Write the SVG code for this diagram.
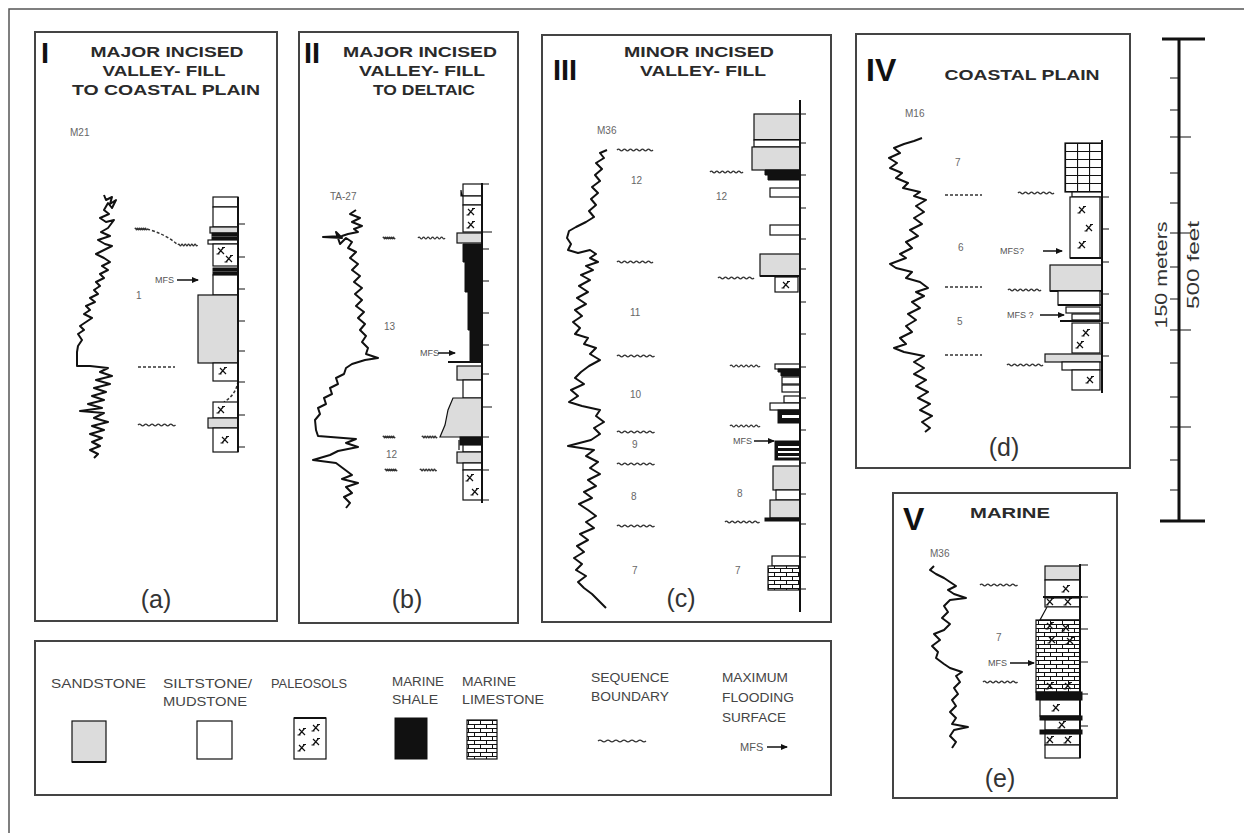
<svg xmlns="http://www.w3.org/2000/svg" xmlns:xlink="http://www.w3.org/1999/xlink" width="1244" height="833" viewBox="0 0 1244 833">
<style>
.box{fill:#fff;stroke:#444;stroke-width:2}
.t{font-family:"Liberation Sans",Arial,sans-serif;font-weight:bold;fill:#2a2a2a;font-size:15px;text-anchor:middle}
.rn{font-family:"Liberation Sans",Arial,sans-serif;font-weight:bold;fill:#111;font-size:29px}
.lbl{font-family:"Liberation Sans",Arial,sans-serif;fill:#666;font-size:10px}
.mfs{font-family:"Liberation Sans",Arial,sans-serif;fill:#555;font-size:9px}
.cap{font-family:"Liberation Sans",Arial,sans-serif;fill:#333;font-size:25px;text-anchor:middle}
.leg{font-family:"Liberation Sans",Arial,sans-serif;fill:#444;font-size:12px}
.log{fill:none;stroke:#111;stroke-width:2;stroke-linejoin:round}
.w{fill:#fff;stroke:#111;stroke-width:1.2}
.g{fill:#dcdcdc;stroke:#111;stroke-width:1.2}
.k{fill:#111;stroke:#111;stroke-width:1}
.lm{fill:url(#lime);stroke:#111;stroke-width:1.2}
.lm2{fill:url(#lime2);stroke:#111;stroke-width:1.2}
.ax{stroke:#111;stroke-width:2}
.tk{stroke:#111;stroke-width:1.2}
.sb{fill:none;stroke:#333;stroke-width:1.3}
.sbd{stroke:#333;stroke-width:1.5;stroke-dasharray:3 2}
.arr{stroke:#111;stroke-width:1.5;marker-end:url(#ah)}
</style>
<defs>
<marker id="ah" markerWidth="7" markerHeight="6" refX="6" refY="3" orient="auto" markerUnits="userSpaceOnUse"><path d="M0,0 L7,3 L0,6z" fill="#111"/></marker>
<pattern id="lime" patternUnits="userSpaceOnUse" width="12" height="8"><rect width="12" height="8" fill="#fff"/><path d="M0,0.5H12M0,4.5H12M0.5,0.5V4.5M6.5,4.5V8" stroke="#111" stroke-width="1"/></pattern>
<pattern id="lime2" patternUnits="userSpaceOnUse" width="12" height="16" x="1065" y="143"><rect width="12" height="16" fill="#fff"/><path d="M0,0.5H12M0,8.5H12M0.5,0V16" stroke="#111" stroke-width="1.2"/></pattern>
<path id="sb" class="sb" vector-effect="non-scaling-stroke" d="M0,0 q1.25,-1.8 2.5,0 t2.5,0 t2.5,0 t2.5,0 t2.5,0 t2.5,0 t2.5,0 t2.5,0 t2.5,0 t2.5,0 t2.5,0 t2.5,0"/>
<path id="ps" d="M-3,-3 L3,3 M2.5,-3.5 L-3,3 M-4.5,3 h3 M1,-3.5 h3" stroke="#111" stroke-width="1.2" fill="none"/>
</defs>
<rect width="1244" height="833" fill="#fff"/>
<path d="M9,833 V9 H1244" fill="none" stroke="#555" stroke-width="1.5"/>

<!-- Panel I -->
<g id="panel-I">
<rect class="box" x="35" y="32" width="242" height="589"/>
<text class="rn" x="41" y="63">I</text>
<text class="t" x="167" y="57" textLength="153" lengthAdjust="spacingAndGlyphs">MAJOR INCISED</text>
<text class="t" x="164" y="76" textLength="123" lengthAdjust="spacingAndGlyphs">VALLEY- FILL</text>
<text class="t" x="166" y="95" textLength="188" lengthAdjust="spacingAndGlyphs">TO COASTAL PLAIN</text>
<text class="lbl" x="70" y="136">M21</text>
<polyline class="log" points="104,195 106,200 112,197 110,204 116,200 112,208 108,203 104,210 109,214 100,218 106,222 114,220 108,228 101,232 110,236 98,240 105,244 112,246 104,250 96,254 104,258 110,262 102,266 108,270 100,274 104,278 96,282 100,286 94,290 98,294 90,298 95,302 86,306 90,310 84,314 92,318 86,322 80,326 84,330 78,334 82,340 78,346 77,352 77,366 90,366 108,368 100,372 112,376 96,380 110,384 94,388 106,392 92,396 104,400 88,404 102,408 80,411 104,413 94,418 108,422 92,426 104,430 90,434 102,438 92,442 100,446 90,450 98,454 94,458"/>
<use href="#sb" transform="translate(135,229) scale(0.4,1)"/>
<path d="M147,229 Q165,234 177,244" fill="none" class="sbd"/>
<use href="#sb" transform="translate(178,245) scale(0.65,1)"/>
<line class="sbd" x1="138" y1="367" x2="175" y2="367"/>
<use href="#sb" transform="translate(138,425) scale(1.25,1)"/>
<text class="lbl" x="136" y="299">1</text>
<text class="mfs" x="155" y="283">MFS</text>
<line class="arr" x1="177" y1="280" x2="198" y2="280"/>
<rect class="w" x="213" y="197" width="25" height="10"/>
<rect class="w" x="213" y="207" width="25" height="20"/>
<rect class="g" x="210" y="227" width="28" height="6"/>
<rect class="k" x="212" y="233" width="26" height="3"/>
<rect class="k" x="212" y="237" width="26" height="3"/>
<rect class="w" x="208" y="240" width="30" height="4"/>
<rect class="w" x="213" y="244" width="25" height="22"/>
<use href="#ps" x="221" y="251"/><use href="#ps" x="229" y="259"/>
<rect class="k" x="213" y="268" width="25" height="3"/>
<rect class="k" x="213" y="272" width="25" height="3"/>
<rect class="w" x="213" y="275" width="25" height="20"/>
<rect class="g" x="198" y="295" width="40" height="68"/>
<rect class="w" x="213" y="363" width="25" height="18"/>
<use href="#ps" x="223" y="371"/>
<path d="M238,381 Q236,395 224,402" class="sbd" fill="none"/>
<rect class="w" x="213" y="402" width="25" height="16"/>
<use href="#ps" x="221" y="410"/>
<rect class="g" x="208" y="418" width="30" height="10"/>
<rect class="w" x="213" y="428" width="25" height="24"/>
<use href="#ps" x="225" y="440"/>
<line class="ax" x1="238" y1="197" x2="238" y2="452"/>
<path class="tk" d="M238,224h7M238,257h7M238,289h7M238,321h7M238,351h7M238,382h7M238,415h7M238,447h7"/>
<text class="cap" x="156" y="608">(a)</text>
</g>

<!-- Panel II -->
<g id="panel-II">
<rect class="box" x="299" y="32" width="219" height="591"/>
<text class="rn" x="304" y="63">II</text>
<text class="t" x="420" y="57" textLength="154" lengthAdjust="spacingAndGlyphs">MAJOR INCISED</text>
<text class="t" x="422" y="76" textLength="126" lengthAdjust="spacingAndGlyphs">VALLEY- FILL</text>
<text class="t" x="424" y="95" textLength="102" lengthAdjust="spacingAndGlyphs">TO DELTAIC</text>
<text class="lbl" x="330" y="200">TA-27</text>
<polyline class="log" points="356,210 350,214 360,218 352,222 362,226 354,229 358,232 348,234 342,236 323,237 342,238 336,232 340,244 346,238 352,242 348,248 356,252 350,258 358,264 352,270 360,276 354,282 362,288 355,294 362,300 356,306 364,312 358,318 365,324 360,330 366,336 362,342 368,348 366,354 378,358 365,360 352,364 346,368 344,374 336,378 338,384 330,388 332,394 324,398 326,404 318,408 320,414 315,420 316,430 318,436 356,439 346,443 358,447 338,451 330,455 313,460 336,463 344,469 352,475 342,479 358,483 346,487 352,493 344,497 350,503 346,508"/>
<use href="#sb" transform="translate(383,238) scale(0.4,1)"/>
<use href="#sb" transform="translate(418,238) scale(0.9,1)"/>
<use href="#sb" transform="translate(383,437) scale(0.4,1)"/>
<use href="#sb" transform="translate(422,437) scale(0.5,1)"/>
<use href="#sb" transform="translate(385,470) scale(0.4,1)"/>
<use href="#sb" transform="translate(420,470) scale(0.55,1)"/>
<text class="lbl" x="384" y="330">13</text>
<text class="lbl" x="386" y="458">12</text>
<text class="mfs" x="420" y="356">MFS</text>
<line class="arr" x1="438" y1="353" x2="455" y2="353"/>
<rect class="w" x="463" y="184" width="19" height="12"/>
<path class="tk" d="M461,190v6h2"/>
<rect class="w" x="463" y="196" width="19" height="9"/>
<rect class="w" x="463" y="205" width="19" height="27"/>
<use href="#ps" x="471" y="212"/><use href="#ps" x="471" y="225"/>
<rect class="g" x="457" y="233" width="25" height="10"/>
<path class="k" d="M463,244H482V362H470V330H468V292H465V262H463Z"/>
<line x1="448" y1="362" x2="482" y2="362" stroke="#111" stroke-width="2"/>
<rect class="g" x="457" y="366" width="25" height="14"/>
<rect class="w" x="463" y="380" width="19" height="18"/>
<path class="g" d="M453,398H482V437H440L445,425L448,410Z"/>
<rect class="k" x="460" y="437" width="22" height="8"/>
<rect class="w" x="463" y="445" width="19" height="7"/>
<path class="tk" d="M459,440v10"/>
<rect class="g" x="457" y="452" width="25" height="11"/>
<rect class="w" x="463" y="463" width="19" height="7"/>
<rect class="w" x="463" y="470" width="19" height="30"/>
<use href="#ps" x="470" y="478"/><use href="#ps" x="475" y="492"/>
<line class="ax" x1="482" y1="183" x2="482" y2="503"/>
<path class="tk" d="M482,184h7M482,232h10M482,249h7M482,281h7M482,313h7M482,345h7M482,374h7M482,407h10M482,437h7M482,470h7M482,500h7"/>
<text class="cap" x="407" y="608">(b)</text>
</g>

<!-- Panel III -->
<g id="panel-III">
<rect class="box" x="542" y="35" width="289" height="587"/>
<text class="rn" x="553" y="80">III</text>
<text class="t" x="699" y="57" textLength="150" lengthAdjust="spacingAndGlyphs">MINOR INCISED</text>
<text class="t" x="703" y="76" textLength="126" lengthAdjust="spacingAndGlyphs">VALLEY- FILL</text>
<text class="lbl" x="597" y="134">M36</text>
<polyline class="log" points="607,150 600,153 604,158 596,163 602,169 595,175 600,181 592,187 598,193 591,199 596,205 589,211 594,217 586,222 576,227 569,231 567,238 571,244 568,250 578,253 590,250 596,254 590,258 598,262 586,266 593,270 581,275 590,280 579,286 588,292 577,298 586,304 575,310 582,316 573,322 580,328 575,334 588,338 584,344 596,348 590,354 600,360 589,366 581,372 575,378 584,384 571,390 578,396 569,402 582,406 600,410 596,416 604,422 594,428 600,434 591,440 568,446 594,450 586,456 598,462 590,468 600,474 588,480 596,486 584,492 592,498 579,504 588,510 596,516 586,522 594,528 580,534 588,540 577,546 584,552 574,558 582,564 576,570 586,576 578,582 584,588 592,594 598,600 606,608"/>
<use href="#sb" transform="translate(617,150) scale(1.2,1)"/>
<use href="#sb" transform="translate(617,262) scale(1.2,1)"/>
<use href="#sb" transform="translate(617,356) scale(1.25,1)"/>
<use href="#sb" transform="translate(617,432) scale(1.25,1)"/>
<use href="#sb" transform="translate(617,464) scale(1.25,1)"/>
<use href="#sb" transform="translate(617,526) scale(1.25,1)"/>
<use href="#sb" transform="translate(710,172) scale(1.1,1)"/>
<use href="#sb" transform="translate(718,278) scale(1.2,1)"/>
<use href="#sb" transform="translate(730,366) scale(1.0,1)"/>
<use href="#sb" transform="translate(730,426) scale(1.0,1)"/>
<use href="#sb" transform="translate(725,522) scale(1.15,1)"/>
<text class="lbl" x="631" y="184">12</text>
<text class="lbl" x="716" y="200">12</text>
<text class="lbl" x="630" y="316">11</text>
<text class="lbl" x="630" y="398">10</text>
<text class="lbl" x="632" y="448">9</text>
<text class="lbl" x="631" y="500">8</text>
<text class="lbl" x="737" y="497">8</text>
<text class="lbl" x="632" y="574">7</text>
<text class="lbl" x="735" y="574">7</text>
<text class="mfs" x="733" y="444">MFS</text>
<line class="arr" x1="754" y1="441" x2="774" y2="441"/>
<rect class="g" x="754" y="114" width="46" height="26"/>
<line x1="754" y1="140" x2="800" y2="140" stroke="#111" stroke-width="2"/>
<rect class="w" x="754" y="140" width="46" height="7"/>
<rect class="g" x="752" y="147" width="48" height="23"/>
<path class="k" d="M765,170H800V180H768V175H765Z"/>
<rect class="w" x="770" y="188" width="30" height="9"/>
<rect class="w" x="770" y="225" width="30" height="10"/>
<rect class="g" x="760" y="254" width="40" height="22"/>
<line x1="760" y1="276" x2="800" y2="276" stroke="#111" stroke-width="2"/>
<rect class="w" x="775" y="277" width="23" height="15"/>
<use href="#ps" x="786" y="285"/>
<rect class="w" x="775" y="364" width="25" height="5"/>
<path class="k" d="M778,369H800V376H781V372H778Z"/>
<rect class="w" x="782" y="377" width="18" height="7"/>
<rect class="w" x="782" y="385" width="18" height="7"/>
<rect class="w" x="784" y="396" width="16" height="7"/>
<rect class="w" x="770" y="403" width="30" height="7"/>
<rect class="k" x="778" y="410" width="22" height="13"/>
<rect x="782" y="415" width="18" height="3" fill="#fff"/>
<rect class="k" x="775" y="441" width="25" height="19"/>
<rect x="778" y="446" width="22" height="2" fill="#fff"/>
<rect x="778" y="451" width="22" height="2" fill="#fff"/>
<rect x="778" y="456" width="22" height="1.5" fill="#fff"/>
<rect class="g" x="773" y="466" width="27" height="24"/>
<rect class="w" x="776" y="490" width="24" height="10"/>
<rect class="g" x="770" y="500" width="30" height="18"/>
<rect class="k" x="765" y="518" width="35" height="3"/>
<rect class="w" x="772" y="556" width="28" height="10"/>
<rect class="lm" x="768" y="566" width="32" height="24"/>
<line class="ax" x1="800" y1="100" x2="800" y2="612"/>
<path class="tk" d="M800,114h6M800,143h6M800,175h6M800,208h6M800,239h6M800,269h6M800,302h6M800,334h6M800,367h6M800,398h6M800,430h6M800,463h6M800,494h6M800,524h6M800,557h6M800,589h6"/>
<text class="cap" x="681" y="607">(c)</text>
</g>

<!-- Panel IV -->
<g id="panel-IV">
<rect class="box" x="856" y="34" width="274" height="434"/>
<text class="rn" x="866" y="81" style="font-size:32px">IV</text>
<text class="t" x="1022" y="80" textLength="155" lengthAdjust="spacingAndGlyphs">COASTAL PLAIN</text>
<text class="lbl" x="905" y="117">M16</text>
<polyline class="log" points="922,138 914,141 904,144 894,148 900,153 889,158 897,163 890,168 902,173 896,178 908,183 903,188 920,192 914,196 926,200 916,206 924,212 914,218 922,224 910,230 918,236 906,242 912,248 900,254 906,258 890,264 896,268 912,272 906,278 920,282 928,288 916,292 924,296 912,302 920,308 908,314 916,320 906,326 912,332 900,338 906,344 894,348 904,352 924,356 914,362 924,368 914,374 926,380 916,386 928,392 918,398 930,404 920,410 932,416 922,422 930,428 925,432"/>
<line class="sbd" x1="945" y1="195" x2="982" y2="195"/>
<line class="sbd" x1="945" y1="287" x2="982" y2="287"/>
<line class="sbd" x1="945" y1="355" x2="982" y2="355"/>
<use href="#sb" transform="translate(1018,193) scale(1.2,1)"/>
<use href="#sb" transform="translate(1008,290) scale(1.1,1)"/>
<use href="#sb" transform="translate(1007,365) scale(1.2,1)"/>
<text class="lbl" x="955" y="166">7</text>
<text class="lbl" x="958" y="251">6</text>
<text class="lbl" x="957" y="325">5</text>
<text class="mfs" x="1000" y="254">MFS?</text>
<line class="arr" x1="1043" y1="251" x2="1062" y2="251"/>
<text class="mfs" x="1007" y="318">MFS ?</text>
<line class="arr" x1="1040" y1="315" x2="1064" y2="315"/>
<rect class="lm2" x="1065" y="143" width="37" height="49"/>
<rect class="w" x="1072" y="192" width="30" height="5"/>
<rect class="w" x="1070" y="197" width="30" height="61"/>
<use href="#ps" x="1082" y="210"/><use href="#ps" x="1089" y="228"/><use href="#ps" x="1082" y="245"/>
<line x1="1070" y1="258" x2="1102" y2="258" stroke="#111" stroke-width="2"/>
<rect class="g" x="1050" y="265" width="52" height="26"/>
<line x1="1050" y1="291" x2="1102" y2="291" stroke="#111" stroke-width="2"/>
<rect class="w" x="1058" y="291" width="42" height="14"/>
<line x1="1058" y1="305" x2="1102" y2="305" stroke="#111" stroke-width="2"/>
<rect class="w" x="1066" y="307" width="34" height="6"/>
<rect class="w" x="1072" y="314" width="28" height="6"/>
<line x1="1060" y1="321" x2="1102" y2="321" stroke="#111" stroke-width="2"/>
<rect class="w" x="1072" y="323" width="28" height="30"/>
<use href="#ps" x="1086" y="333"/><use href="#ps" x="1080" y="345"/>
<rect class="g" x="1045" y="354" width="57" height="8"/>
<rect class="w" x="1062" y="362" width="38" height="8"/>
<rect class="w" x="1072" y="370" width="28" height="20"/>
<use href="#ps" x="1090" y="380"/>
<line class="ax" x1="1102" y1="140" x2="1102" y2="393"/>
<path class="tk" d="M1102,197h7M1102,229h7M1102,262h7M1102,294h7M1102,323h7M1102,356h7"/>
<text class="cap" x="1004" y="456">(d)</text>
</g>

<!-- Panel V -->
<g id="panel-V">
<rect class="box" x="893" y="493" width="224" height="305"/>
<text class="rn" x="903" y="530" style="font-size:32px">V</text>
<text class="t" x="1010" y="518" textLength="80" lengthAdjust="spacingAndGlyphs">MARINE</text>
<text class="lbl" x="930" y="557">M36</text>
<polyline class="log" points="934,566 930,570 936,574 944,578 950,582 956,586 948,590 954,594 966,598 950,600 944,606 948,612 942,618 950,624 944,630 934,634 940,640 932,646 938,652 936,658 944,664 950,668 962,672 956,676 960,682 954,688 958,694 952,700 956,706 950,712 956,718 952,724 968,727 954,730 950,736 956,742 952,748"/>
<use href="#sb" transform="translate(980,585) scale(1.25,1)"/>
<use href="#sb" transform="translate(983,682) scale(1.15,1)"/>
<text class="lbl" x="996" y="641">7</text>
<text class="mfs" x="988" y="666">MFS</text>
<line class="arr" x1="1010" y1="663" x2="1034" y2="663"/>
<rect class="g" x="1045" y="566" width="35" height="14"/>
<rect class="w" x="1045" y="580" width="35" height="17"/>
<use href="#ps" x="1066" y="589"/>
<line x1="1043" y1="597" x2="1082" y2="597" stroke="#111" stroke-width="2"/>
<rect class="w" x="1045" y="598" width="35" height="9"/>
<use href="#ps" x="1050" y="602"/><use href="#ps" x="1068" y="602"/>
<path class="w" d="M1047,607H1080V620H1040Z"/>
<rect class="lm" x="1036" y="620" width="44" height="72"/>
<use href="#ps" x="1050" y="626"/><use href="#ps" x="1066" y="628"/><use href="#ps" x="1052" y="640"/><use href="#ps" x="1070" y="641"/>
<use href="#ps" x="1050" y="686"/><use href="#ps" x="1068" y="686"/>
<rect class="k" x="1036" y="692" width="46" height="8"/>
<rect class="w" x="1040" y="700" width="40" height="16"/>
<use href="#ps" x="1056" y="708"/>
<rect class="k" x="1040" y="716" width="42" height="4"/>
<rect class="w" x="1045" y="720" width="35" height="10"/>
<use href="#ps" x="1062" y="725"/>
<rect class="k" x="1040" y="730" width="42" height="4"/>
<rect class="w" x="1045" y="734" width="35" height="11"/>
<use href="#ps" x="1050" y="740"/><use href="#ps" x="1068" y="740"/>
<rect class="w" x="1045" y="745" width="35" height="13"/>
<line class="ax" x1="1080" y1="564" x2="1080" y2="758"/>
<path class="tk" d="M1080,565h8M1080,597h8M1080,629h8M1080,662h8M1080,694h8M1080,726h8"/>
<text class="cap" x="1000" y="787">(e)</text>
</g>

<!-- Legend -->
<g id="legend">
<rect class="box" x="35" y="641" width="796" height="154"/>
<text class="leg" x="51" y="688" textLength="95" lengthAdjust="spacingAndGlyphs">SANDSTONE</text>
<text class="leg" x="163" y="688" textLength="89" lengthAdjust="spacingAndGlyphs">SILTSTONE/</text>
<text class="leg" x="163" y="706" textLength="84" lengthAdjust="spacingAndGlyphs">MUDSTONE</text>
<text class="leg" x="271" y="688" textLength="76" lengthAdjust="spacingAndGlyphs">PALEOSOLS</text>
<text class="leg" x="392" y="686" textLength="52" lengthAdjust="spacingAndGlyphs">MARINE</text>
<text class="leg" x="392" y="704" textLength="46" lengthAdjust="spacingAndGlyphs">SHALE</text>
<text class="leg" x="462" y="686" textLength="54" lengthAdjust="spacingAndGlyphs">MARINE</text>
<text class="leg" x="462" y="704" textLength="82" lengthAdjust="spacingAndGlyphs">LIMESTONE</text>
<text class="leg" x="591" y="682" textLength="78" lengthAdjust="spacingAndGlyphs">SEQUENCE</text>
<text class="leg" x="591" y="701" textLength="78" lengthAdjust="spacingAndGlyphs">BOUNDARY</text>
<text class="leg" x="722" y="682" textLength="66" lengthAdjust="spacingAndGlyphs">MAXIMUM</text>
<text class="leg" x="722" y="702" textLength="72" lengthAdjust="spacingAndGlyphs">FLOODING</text>
<text class="leg" x="722" y="722" textLength="64" lengthAdjust="spacingAndGlyphs">SURFACE</text>
<rect class="g" x="72" y="721" width="34" height="41"/>
<line x1="72" y1="762" x2="106" y2="762" stroke="#111" stroke-width="2"/>
<rect class="w" x="197" y="721" width="35" height="38"/>
<rect class="w" x="294" y="718" width="32" height="41"/>
<line x1="294" y1="718" x2="326" y2="718" stroke="#111" stroke-width="2"/>
<use href="#ps" x="302" y="732"/><use href="#ps" x="316" y="728"/><use href="#ps" x="302" y="748"/><use href="#ps" x="316" y="742"/>
<rect class="k" x="395" y="718" width="32" height="41"/>
<rect class="lm" x="467" y="720" width="30" height="39"/>
<use href="#sb" transform="translate(598,741) scale(1.6,1)"/>
<text class="mfs" x="740" y="751" style="font-size:11px">MFS</text>
<line class="arr" x1="767" y1="747" x2="787" y2="747"/>
</g>

<!-- Scale bar -->
<g id="scale-bar">
<line x1="1179" y1="39" x2="1179" y2="521" stroke="#111" stroke-width="3"/>
<line x1="1162" y1="39" x2="1205" y2="39" stroke="#111" stroke-width="3"/>
<line x1="1160" y1="521" x2="1205" y2="521" stroke="#111" stroke-width="3"/>
<path class="tk" stroke-width="1.5" d="M1170,78h9M1170,110h9M1170,173h9M1170,203h9M1170,267h9M1170,299h9M1170,363h9M1170,397h9M1170,460h9M1170,490h9"/>
<path class="tk" stroke-width="2" d="M1170,137h21M1170,233h21M1170,330h21M1170,427h21"/>
<text x="1167" y="275" transform="rotate(-90 1167 275)" text-anchor="middle" font-family="Liberation Sans, Arial, sans-serif" font-size="17" fill="#333" textLength="107" lengthAdjust="spacingAndGlyphs">150 meters</text>
<text x="1199" y="265" transform="rotate(-90 1199 265)" text-anchor="middle" font-family="Liberation Sans, Arial, sans-serif" font-size="17" fill="#333" textLength="88" lengthAdjust="spacingAndGlyphs">500 feet</text>
</g>
</svg>
